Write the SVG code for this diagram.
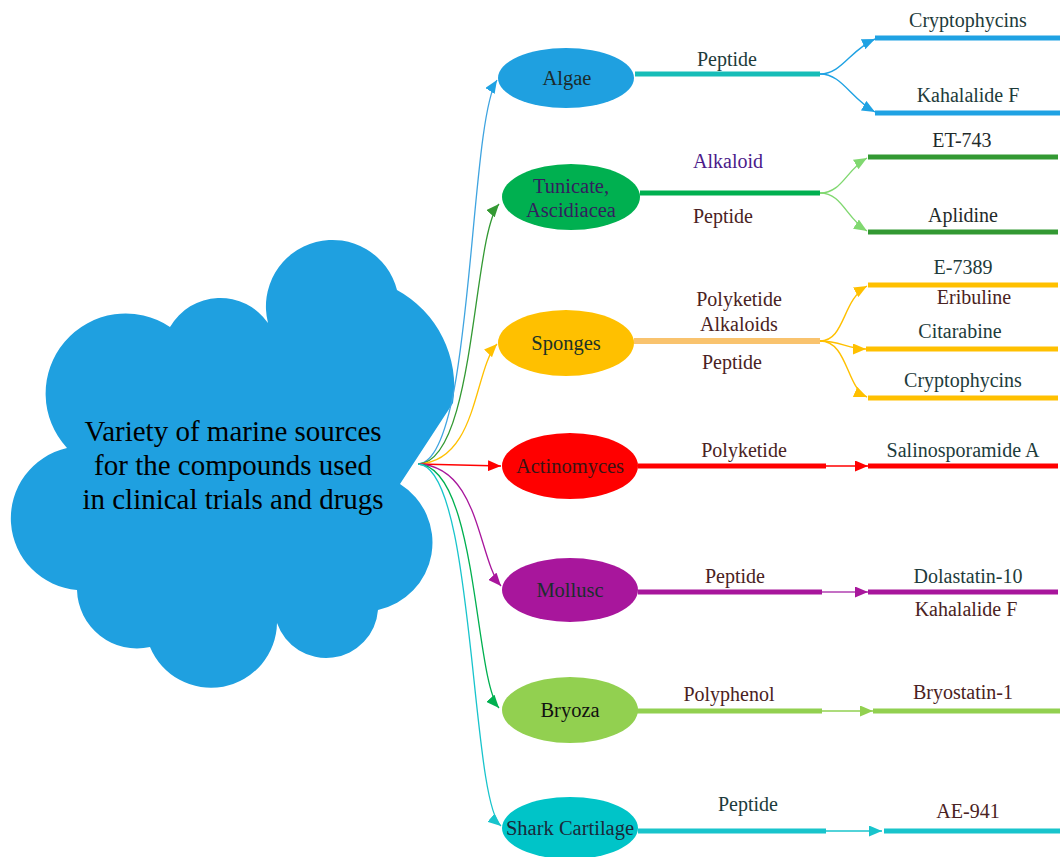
<svg xmlns="http://www.w3.org/2000/svg" width="1060" height="857" viewBox="0 0 1060 857">
<style>
text{font-family:"Liberation Serif","Times New Roman",serif;text-anchor:middle}
.node{font-size:20.5px}
.lbl{font-size:20px}
.teal{fill:#1d3b3b}
.brown{fill:#4a2222}
.fan{fill:none;stroke-width:1.3}
.thick{stroke-width:5;fill:none}
.thin{stroke-width:1.4;fill:none}
</style>
<defs>
<marker id="aBlue" viewBox="0 0 10 10" refX="10" refY="5" markerUnits="userSpaceOnUse" markerWidth="13" markerHeight="11" orient="auto" preserveAspectRatio="none"><path d="M0,0L10,5L0,10z" fill="#1fa2e3"/></marker>
<marker id="aDkGreen" viewBox="0 0 10 10" refX="10" refY="5" markerUnits="userSpaceOnUse" markerWidth="13" markerHeight="11" orient="auto" preserveAspectRatio="none"><path d="M0,0L10,5L0,10z" fill="#339933"/></marker>
<marker id="aLtGreen" viewBox="0 0 10 10" refX="10" refY="5" markerUnits="userSpaceOnUse" markerWidth="13" markerHeight="11" orient="auto" preserveAspectRatio="none"><path d="M0,0L10,5L0,10z" fill="#80d870"/></marker>
<marker id="aYellow" viewBox="0 0 10 10" refX="10" refY="5" markerUnits="userSpaceOnUse" markerWidth="13" markerHeight="11" orient="auto" preserveAspectRatio="none"><path d="M0,0L10,5L0,10z" fill="#ffc000"/></marker>
<marker id="aRed" viewBox="0 0 10 10" refX="10" refY="5" markerUnits="userSpaceOnUse" markerWidth="13" markerHeight="11" orient="auto" preserveAspectRatio="none"><path d="M0,0L10,5L0,10z" fill="#ff0000"/></marker>
<marker id="aPurple" viewBox="0 0 10 10" refX="10" refY="5" markerUnits="userSpaceOnUse" markerWidth="13" markerHeight="11" orient="auto" preserveAspectRatio="none"><path d="M0,0L10,5L0,10z" fill="#a8169c"/></marker>
<marker id="aGreen" viewBox="0 0 10 10" refX="10" refY="5" markerUnits="userSpaceOnUse" markerWidth="13" markerHeight="11" orient="auto" preserveAspectRatio="none"><path d="M0,0L10,5L0,10z" fill="#00b050"/></marker>
<marker id="aLime" viewBox="0 0 10 10" refX="10" refY="5" markerUnits="userSpaceOnUse" markerWidth="13" markerHeight="11" orient="auto" preserveAspectRatio="none"><path d="M0,0L10,5L0,10z" fill="#92d050"/></marker>
<marker id="aCyan" viewBox="0 0 10 10" refX="10" refY="5" markerUnits="userSpaceOnUse" markerWidth="13" markerHeight="11" orient="auto" preserveAspectRatio="none"><path d="M0,0L10,5L0,10z" fill="#18c4cc"/></marker>
</defs>

<g id="cloud">
<path d="M170,327 A58,58 0 0 1 268,323 A66.5,66.5 0 0 1 397,290 A110,110 0 0 1 453,403 L400,484 A69,69 0 0 1 378,610 A52,52 0 0 1 277,623 A66,66 0 0 1 150,647 A60,60 0 0 1 77,590 A72,72 0 0 1 67,448 A80,80 0 0 1 170,327 Z" fill="#1fa0e0"/>
<text x="233" y="441" font-size="29">Variety of marine sources</text>
<text x="233" y="475" font-size="29">for the compounds used</text>
<text x="233" y="509" font-size="29">in clinical trials and drugs</text>
</g>

<g id="connectors">
<path class="fan" stroke="#3fa4e0" d="M418,464 C474,462 468,125 497,80" marker-end="url(#aBlue)"/>
<path class="fan" stroke="#339933" d="M418,464 C476,462 472,235 499,204" marker-end="url(#aDkGreen)"/>
<path class="fan" stroke="#ffc000" d="M418,464 C478,462 474,368 497,344" marker-end="url(#aYellow)"/>
<path class="fan" stroke="#ff0000" d="M418,464 L501,466" marker-end="url(#aRed)"/>
<path class="fan" stroke="#a8169c" d="M418,464 C480,466 478,560 501,586" marker-end="url(#aPurple)"/>
<path class="fan" stroke="#00b050" d="M418,464 C478,466 474,680 499,708" marker-end="url(#aGreen)"/>
<path class="fan" stroke="#18c4cc" d="M418,464 C475,466 470,800 501,826" marker-end="url(#aCyan)"/>

<line class="thick" stroke="#17bdb8" x1="635" y1="74" x2="820" y2="74"/>
<path class="thin" stroke="#1fa2e3" d="M820,74 C842,74 850,50 875,39" marker-end="url(#aBlue)"/>
<path class="thin" stroke="#1fa2e3" d="M820,74 C842,74 850,98 875,112" marker-end="url(#aBlue)"/>
<line class="thick" stroke="#1fa2e3" x1="875" y1="38" x2="1060" y2="38"/>
<line class="thick" stroke="#1fa2e3" x1="875" y1="113" x2="1060" y2="113"/>

<line class="thick" stroke="#00b050" x1="640" y1="193" x2="820" y2="193"/>
<path class="thin" stroke="#80d870" d="M820,193 C842,193 846,170 867,158" marker-end="url(#aLtGreen)"/>
<path class="thin" stroke="#80d870" d="M820,193 C842,193 846,218 867,231" marker-end="url(#aLtGreen)"/>
<line class="thick" stroke="#339933" x1="868" y1="157" x2="1058" y2="157"/>
<line class="thick" stroke="#339933" x1="868" y1="232" x2="1058" y2="232"/>

<line stroke="#f9c36e" stroke-width="6" x1="634" y1="341" x2="820" y2="341"/>
<path class="thin" stroke="#ffc000" d="M820,341 C845,341 842,300 867,286" marker-end="url(#aYellow)"/>
<path class="thin" stroke="#ffc000" d="M820,341 C840,341 848,349 866,349" marker-end="url(#aYellow)"/>
<path class="thin" stroke="#ffc000" d="M820,341 C848,341 846,388 867,397" marker-end="url(#aYellow)"/>
<line class="thick" stroke="#ffc000" x1="868" y1="285" x2="1058" y2="285"/>
<line class="thick" stroke="#ffc000" x1="866" y1="349" x2="1058" y2="349"/>
<line class="thick" stroke="#ffc000" x1="868" y1="398" x2="1058" y2="398"/>

<line class="thick" stroke="#ff0000" x1="638" y1="466" x2="826" y2="466"/>
<line class="thin" stroke="#ff0000" x1="826" y1="466" x2="868" y2="466" marker-end="url(#aRed)"/>
<line class="thick" stroke="#ff0000" x1="868" y1="466" x2="1058" y2="466"/>

<line class="thick" stroke="#a8169c" x1="638" y1="592" x2="822" y2="592"/>
<line class="thin" stroke="#b040b0" x1="822" y1="592" x2="868" y2="592" marker-end="url(#aPurple)"/>
<line class="thick" stroke="#a8169c" x1="868" y1="592" x2="1058" y2="592"/>

<line class="thick" stroke="#92d050" x1="636" y1="711" x2="822" y2="711"/>
<line class="thin" stroke="#92d050" x1="822" y1="711" x2="873" y2="711" marker-end="url(#aLime)"/>
<line class="thick" stroke="#92d050" x1="873" y1="711" x2="1060" y2="711"/>

<line class="thick" stroke="#18c4cc" x1="638" y1="831" x2="826" y2="831"/>
<line class="thin" stroke="#18c4cc" x1="826" y1="831" x2="882" y2="831" marker-end="url(#aCyan)"/>
<line class="thick" stroke="#18c4cc" x1="884" y1="831" x2="1060" y2="831"/>
</g>

<g id="algae">
<ellipse cx="566" cy="78" rx="68" ry="30" fill="#1fa0e0"/>
<text class="node" x="567" y="85" fill="#1c2b2b">Algae</text>
<text class="lbl teal" x="727" y="66">Peptide</text>
<text class="lbl teal" x="968" y="27">Cryptophycins</text>
<text class="lbl teal" x="968" y="102">Kahalalide F</text>
</g>

<g id="tunicate">
<ellipse cx="571" cy="197" rx="69" ry="33" fill="#00b050"/>
<text class="node" x="571" y="193" fill="#33205e">Tunicate,</text>
<text class="node" x="571" y="217" fill="#33205e">Ascidiacea</text>
<text class="lbl" x="728" y="168" fill="#4b1a8a">Alkaloid</text>
<text class="lbl brown" x="723" y="223">Peptide</text>
<text class="lbl" x="962" y="147" fill="#1f2a2a">ET-743</text>
<text class="lbl" x="963" y="222" fill="#1f2a2a">Aplidine</text>
</g>

<g id="sponges">
<ellipse cx="566" cy="343" rx="68" ry="33" fill="#ffc000"/>
<text class="node" x="566" y="350" fill="#1c3326">Sponges</text>
<text class="lbl brown" x="739" y="306">Polyketide</text>
<text class="lbl brown" x="739" y="331">Alkaloids</text>
<text class="lbl brown" x="732" y="369">Peptide</text>
<text class="lbl teal" x="963" y="274">E-7389</text>
<text class="lbl brown" x="974" y="304">Eribuline</text>
<text class="lbl teal" x="960" y="338">Citarabine</text>
<text class="lbl teal" x="963" y="387">Cryptophycins</text>
</g>

<g id="actinomyces">
<ellipse cx="570" cy="466" rx="68" ry="33" fill="#ff0000"/>
<text class="node" x="570" y="473" fill="#3a1414">Actinomyces</text>
<text class="lbl brown" x="744" y="457">Polyketide</text>
<text class="lbl teal" x="963" y="457">Salinosporamide A</text>
</g>

<g id="mollusc">
<ellipse cx="570" cy="590" rx="68" ry="32" fill="#a8169c"/>
<text class="node" x="570" y="597" fill="#1a2e2e">Mollusc</text>
<text class="lbl brown" x="735" y="583">Peptide</text>
<text class="lbl teal" x="968" y="583">Dolastatin-10</text>
<text class="lbl brown" x="966" y="616">Kahalalide F</text>
</g>

<g id="bryoza">
<ellipse cx="570" cy="710" rx="68" ry="33" fill="#92d050"/>
<text class="node" x="570" y="717" fill="#111">Bryoza</text>
<text class="lbl brown" x="729" y="701">Polyphenol</text>
<text class="lbl brown" x="963" y="699">Bryostatin-1</text>
</g>

<g id="shark">
<ellipse cx="570" cy="828" rx="68" ry="31" fill="#00c4c8"/>
<text class="node" x="570" y="835" fill="#1a2a3a">Shark Cartilage</text>
<text class="lbl teal" x="748" y="811">Peptide</text>
<text class="lbl brown" x="968" y="818">AE-941</text>
</g>
</svg>
